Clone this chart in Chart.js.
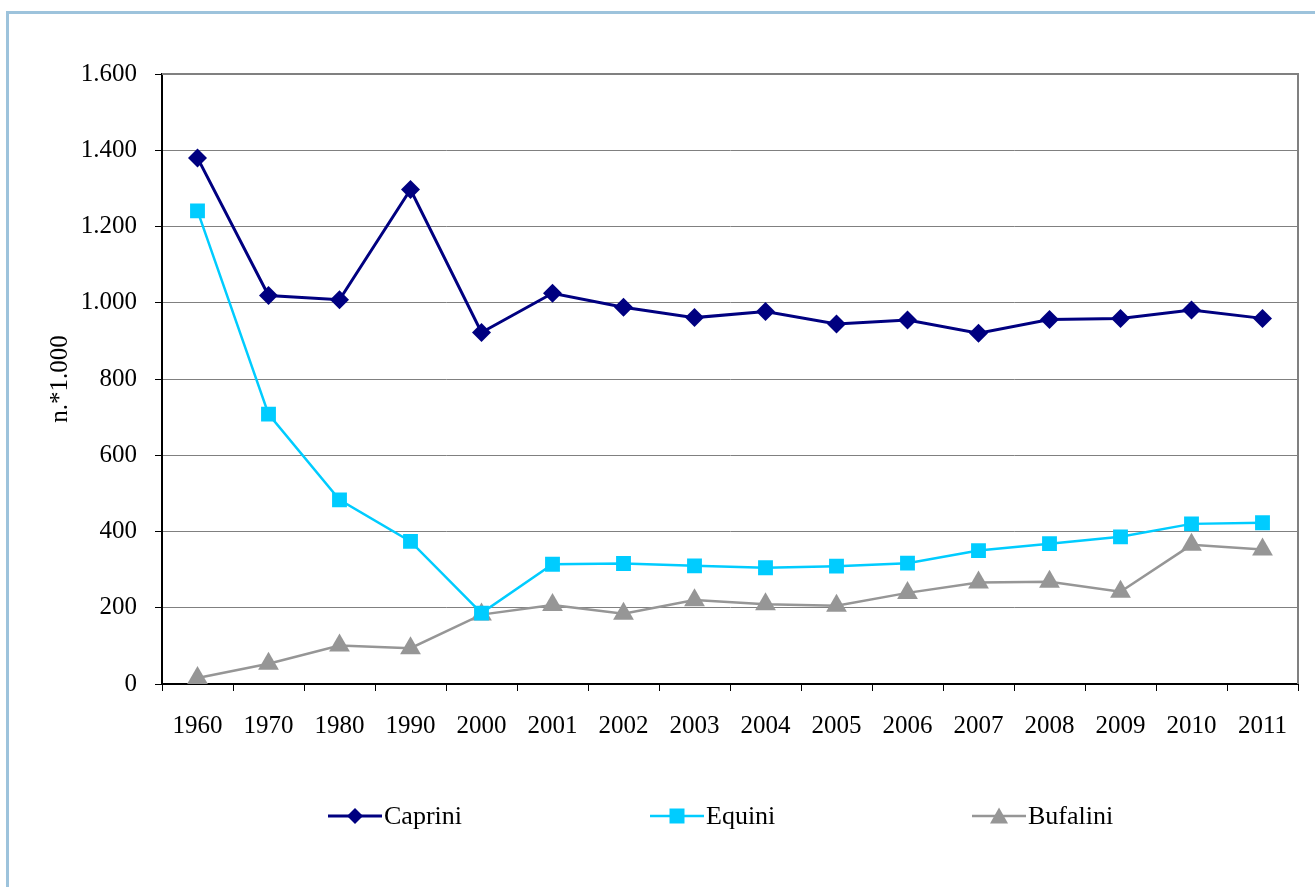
<!DOCTYPE html>
<html>
<head>
<meta charset="utf-8">
<script src="https://cdn.jsdelivr.net/npm/chart.js@4.4.1/dist/chart.umd.min.js"></script>
<style>
  html, body { margin: 0; padding: 0; background: #ffffff; overflow: hidden; }
  #wrap { position: relative; width: 1315px; height: 887px; }
  #frame { position: absolute; left: 6px; top: 11px; width: 1400px; height: 1000px;
           border-left: 3px solid #9DC3DC; border-top: 3px solid #9DC3DC; box-sizing: border-box; }
  canvas { position: absolute; left: 0; top: 0; }
</style>
</head>
<body>
<div id="wrap">
  <div id="frame"></div>
  <canvas id="c" width="1315" height="887"></canvas>
</div>
<script>
const categories = ['1960','1970','1980','1990','2000','2001','2002','2003','2004','2005','2006','2007','2008','2009','2010','2011'];
const caprini  = [1380, 1019, 1008, 1297, 922, 1025, 988, 961, 977, 944, 955, 920, 956, 959, 981, 959];
const equini   = [1241, 708, 483, 374, 186, 314, 316, 310, 305, 309, 317, 350, 368, 386, 420, 423];
const bufalini = [16, 53, 101, 94, 182, 207, 184, 220, 209, 205, 239, 266, 268, 242, 365, 353];
const seriesNames = ['Caprini', 'Equini', 'Bufalini'];
const yTicks = [0, 200, 400, 600, 800, 1000, 1200, 1400, 1600];
const yTitle = 'n.*1.000';

const FONT = "'Liberation Serif', 'Times New Roman', serif";

function fmt(v) {
  const s = String(Math.round(v));
  return s.replace(/\B(?=(\d{3})+(?!\d))/g, '.');
}

function drawMarker(ctx, style, x, y, color) {
  ctx.save();
  ctx.fillStyle = color;
  ctx.beginPath();
  if (style === 'rectRot') {
    const r = 8;
    ctx.moveTo(x, y - r); ctx.lineTo(x + r, y); ctx.lineTo(x, y + r); ctx.lineTo(x - r, y);
  } else if (style === 'rect') {
    const s = 7.5;
    ctx.rect(x - s, y - s, 2 * s, 2 * s);
  } else if (style === 'triangle') {
    const w = 9, h = 15;
    ctx.moveTo(x, y - h / 2 - 1);
    ctx.lineTo(x + w, y + h / 2);
    ctx.lineTo(x - w, y + h / 2);
  }
  ctx.closePath();
  ctx.fill();
  ctx.restore();
}

const framePlugin = {
  id: 'framePlugin',
  beforeDatasetsDraw(chart) {
    const {ctx, chartArea} = chart;
    ctx.save();
    ctx.strokeStyle = '#808080';
    ctx.lineWidth = 2;
    ctx.beginPath();
    ctx.moveTo(chartArea.left, chartArea.top);
    ctx.lineTo(chartArea.right, chartArea.top);
    ctx.lineTo(chartArea.right, chartArea.bottom);
    ctx.stroke();
    ctx.restore();
  },
  afterDraw(chart) {
    const ctx = chart.ctx;
    ctx.save();
    ctx.font = '26px ' + FONT;
    ctx.textBaseline = 'middle';
    ctx.textAlign = 'left';
    const y = 816;
    chart.data.datasets.forEach((ds, i) => {
      const x0 = 328 + i * 322;
      ctx.strokeStyle = ds.borderColor;
      ctx.lineWidth = ds.borderWidth;
      ctx.beginPath();
      ctx.moveTo(x0, y); ctx.lineTo(x0 + 54, y);
      ctx.stroke();
      drawMarker(ctx, ds.pointStyle, x0 + 27, y, ds.pointBackgroundColor);
      ctx.fillStyle = '#000000';
      ctx.fillText(ds.label, x0 + 56, y + 1);
    });
    ctx.restore();
  }
};

new Chart(document.getElementById('c'), {
  type: 'line',
  data: {
    labels: categories,
    datasets: [
      { label: seriesNames[0], data: caprini, borderColor: '#000080', backgroundColor: '#000080',
        pointBackgroundColor: '#000080', pointBorderColor: '#000080', borderWidth: 3,
        pointStyle: 'rectRot', pointRadius: 9.5, pointBorderWidth: 0, tension: 0 },
      { label: seriesNames[1], data: equini, borderColor: '#00CCFF', backgroundColor: '#00CCFF',
        pointBackgroundColor: '#00CCFF', pointBorderColor: '#00CCFF', borderWidth: 2.5,
        pointStyle: 'rect', pointRadius: 10.5, pointBorderWidth: 0, tension: 0 },
      { label: seriesNames[2], data: bufalini, borderColor: '#969696', backgroundColor: '#969696',
        pointBackgroundColor: '#969696', pointBorderColor: '#969696', borderWidth: 2.5,
        pointStyle: 'triangle', pointRadius: 12, pointBorderWidth: 0, tension: 0 }
    ]
  },
  options: {
    responsive: false,
    animation: false,
    layout: { padding: { left: 0, top: 74, right: 17, bottom: 0 } },
    plugins: { legend: { display: false }, tooltip: { enabled: false }, title: { display: false } },
    scales: {
      x: {
        type: 'category',
        offset: true,
        grid: { display: true, drawOnChartArea: false, drawTicks: true, tickLength: 7,
                tickColor: '#000000', offset: true, color: '#000000' },
        border: { display: true, color: '#000000', width: 2 },
        ticks: { color: '#000000', font: { family: FONT, size: 25 }, padding: 20,
                 maxRotation: 0, autoSkip: false },
        afterFit(scale) { scale.height = 203; }
      },
      y: {
        min: 0, max: 1600,
        afterBuildTicks(scale) { scale.ticks = yTicks.map(v => ({ value: v })); },
        grid: { color: '#808080', lineWidth: 1, drawTicks: true, tickLength: 7, tickColor: '#000000' },
        border: { display: true, color: '#000000', width: 2 },
        ticks: { color: '#000000', font: { family: FONT, size: 25 }, padding: 18,
                 callback: (v) => fmt(v) },
        title: { display: true, text: yTitle, color: '#000000',
                 font: { family: FONT, size: 25 }, padding: { top: 45, bottom: 0 } },
        afterFit(scale) { scale.width = 162; }
      }
    }
  },
  plugins: [framePlugin]
});
</script>
</body>
</html>
